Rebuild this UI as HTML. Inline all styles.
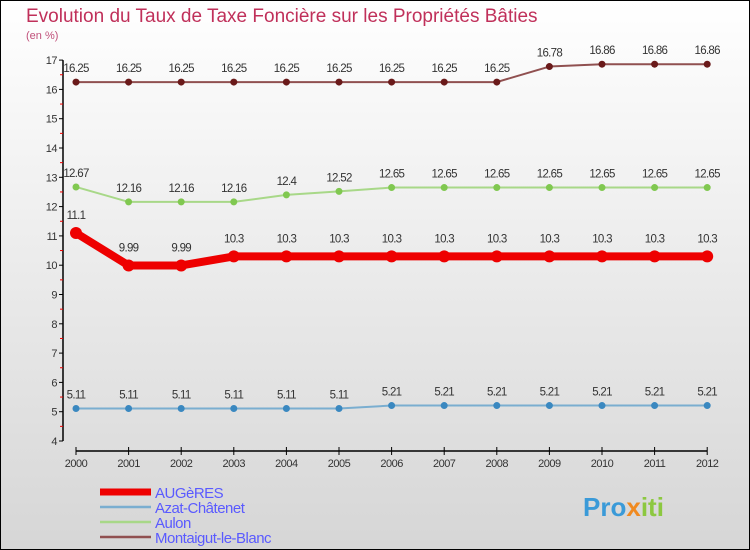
<!DOCTYPE html>
<html><head><meta charset="utf-8"><style>
body{margin:0}
#c{width:750px;height:550px;position:relative;box-sizing:border-box;border:1px solid #000;background:linear-gradient(#ffffff,#d6d6d6);font-family:"Liberation Sans",sans-serif;overflow:hidden}
</style></head><body>
<div id="c">
<svg id="s" width="750" height="550" style="position:absolute;left:-1px;top:-1px">
<text x="26" y="22" font-size="19" fill="#c0305a">Evolution du Taux de Taxe Foncière sur les Propriétés Bâties</text>
<text x="26" y="39" font-size="11" fill="#c0507a">(en %)</text>
<g id="ax"></g><g id="ser"></g><g id="leg"></g>
<text x="583" y="516" font-size="26" font-weight="bold" fill="#3a9ad8">Pro<tspan fill="#f08a20">x</tspan><tspan fill="#8cc840">iti</tspan></text>
</svg>
</div>
<script>
const years=[2000,2001,2002,2003,2004,2005,2006,2007,2008,2009,2010,2011,2012];
const yTicks=[4,5,6,7,8,9,10,11,12,13,14,15,16,17];
const seriesNames=["AUGèRES","Azat-Châtenet","Aulon","Montaigut-le-Blanc"];
const augeres=[11.1,9.99,9.99,10.3,10.3,10.3,10.3,10.3,10.3,10.3,10.3,10.3,10.3];
const azat=[5.11,5.11,5.11,5.11,5.11,5.11,5.21,5.21,5.21,5.21,5.21,5.21,5.21];
const aulon=[12.67,12.16,12.16,12.16,12.4,12.52,12.65,12.65,12.65,12.65,12.65,12.65,12.65];
const montaigut=[16.25,16.25,16.25,16.25,16.25,16.25,16.25,16.25,16.25,16.78,16.86,16.86,16.86];
const NS="http://www.w3.org/2000/svg";
function X(i){return 76+i*52.6;}
function Y(v){return 441-(v-4)*29.3;}
function mk(t,a,p){const e=document.createElementNS(NS,t);for(const k in a)e.setAttribute(k,a[k]);p.appendChild(e);return e;}
const ax=document.getElementById('ax');
let l=mk('line',{x1:63,y1:Y(17),x2:63,y2:Y(4),stroke:'#000','stroke-width':1.5},ax);


l=mk('line',{x1:X(0),y1:451,x2:X(12),y2:451,stroke:'#000','stroke-width':1.5},ax);


yTicks.forEach(v=>{mk('line',{x1:59,y1:Y(v),x2:63,y2:Y(v),stroke:'#000'},ax);
if(v<17)mk('line',{x1:60,y1:Y(v+0.5),x2:63,y2:Y(v+0.5),stroke:'#e00'},ax);
const t=mk('text',{x:57,y:Y(v)+4,'text-anchor':'end','font-size':11,fill:'#333','letter-spacing':'-0.5'},ax);t.textContent=v;

});
years.forEach((y,i)=>{mk('line',{x1:X(i),y1:447,x2:X(i),y2:455,stroke:'#000'},ax);
const t=mk('text',{x:X(i),y:467,'text-anchor':'middle','font-size':11,fill:'#333','letter-spacing':'-0.5'},ax);t.textContent=y;

});
const ser=document.getElementById('ser');
const cfg=[[augeres,'#ee0000','#ee0000',8,6,'augeres'],[azat,'#7aaed0','#3a88c0',2,3.5,'azat-chatenet'],[aulon,'#a8d888','#80c850',2,3.5,'aulon'],[montaigut,'#905050','#6a1a1a',2,3.5,'montaigut-le-blanc']];
cfg.forEach(([d,lc,pc,w,r,n])=>{const g=mk('g',{},ser);


mk('polyline',{points:d.map((v,i)=>X(i)+','+Y(v)).join(' '),fill:'none',stroke:lc,'stroke-width':w,'stroke-linejoin':'round'},g);
d.forEach((v,i)=>{const c=mk('circle',{cx:X(i),cy:Y(v),r:r,fill:pc},g);


const t=mk('text',{x:X(i),y:Y(v)-(w>4?14:10),'text-anchor':'middle','font-size':11.5,fill:'#333','letter-spacing':'-0.7'},g);t.textContent=v;

});});
const leg=document.getElementById('leg');
const lc=['#ee0000','#7aaed0','#a8d888','#905050'],lw=[7,2.5,2.5,2.5];
seriesNames.forEach((n,i)=>{const y=493+i*15;
const g=mk('g',{},leg);


mk('line',{x1:100,y1:y-1,x2:151,y2:y-1,stroke:lc[i],'stroke-width':lw[i]},g);
const t=mk('text',{x:155,y:y+5,'font-size':15,fill:'#5a5aff','letter-spacing':'-0.5'},g);t.textContent=n;});
</script>
</body></html>
